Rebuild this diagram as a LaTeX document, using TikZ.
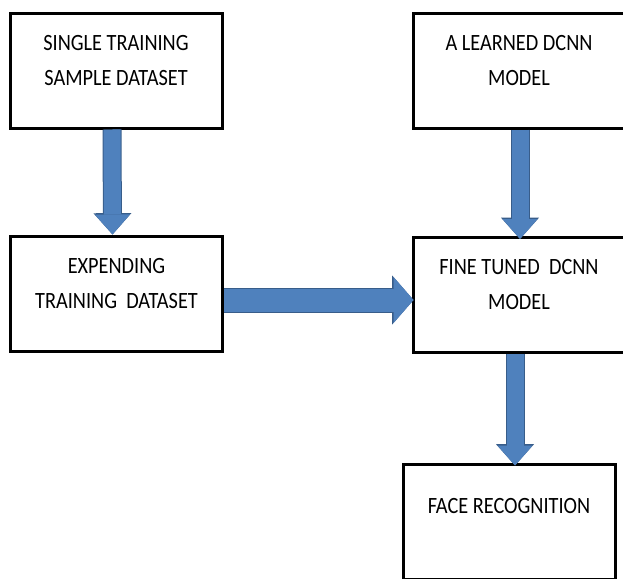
\documentclass[tikz,border=0pt]{standalone}
\usepackage{fontspec}
\setmainfont{Carlito}[FakeStretch=0.87]
\usetikzlibrary{arrows.meta,calc}

\definecolor{arrowblue}{HTML}{4F81BD}
\definecolor{arrowedge}{HTML}{385D8A}

\tikzset{
  box/.style={draw, line width=2.25pt, minimum width=159pt, minimum height=86.25pt,
    inner sep=0pt, align=center, font=\fontsize{17.5}{26.25}\selectfont},
  twoline/.style={text depth=15.75pt},
  oneline/.style={text depth=24pt},
  downarrow/.style={draw=arrowblue, line width=12.75pt,
    -{Triangle[width=26.25pt,length=15pt,line width=0pt]},
    preaction={draw=arrowedge, line width=14.25pt,
      -{Triangle[width=28.5pt,length=16pt,line width=0pt]}}},
  rightarrow/.style={draw=arrowblue, line width=17.25pt,
    -{Triangle[width=34.5pt,length=15pt,line width=0pt]},
    preaction={draw=arrowedge, line width=18.75pt,
      -{Triangle[width=36.75pt,length=16pt,line width=0pt]}}}
}

\begin{document}
\begin{tikzpicture}[x=0.75pt,y=0.75pt,yscale=-1,xscale=1]
\useasboundingbox (0,0) rectangle (623,578);
\clip (0,0) rectangle (623,578);

%Process boxes
\node[box,twoline] (single) at (116,70.5) {SINGLE TRAINING\\SAMPLE DATASET};
\node[box,twoline] (learned) at (519,70.5) {A LEARNED DCNN\\MODEL};
\node[box,twoline] (expend) at (116.5,293.5) {EXPENDING\\TRAINING~ DATASET};
\node[box,twoline] (fine) at (519,295) {FINE TUNED~ DCNN\\MODEL};
\node[box,oneline] (face) at (509,521.5) {FACE RECOGNITION};

%Block arrows
\draw[downarrow] ($(single.south)+(-4,0)$) -- ($(expend.north)+(-4,0)$);
\draw[downarrow] ($(learned.south)+(1,0)$) -- ($(fine.north)+(1,3)$);
\draw[downarrow] ($(fine.south)+(-4,0)$) -- ($(fine.south |- face.north)+(-4,3)$);
\draw[rightarrow] ($(expend.east)+(0,6.5)$) -- ($(expend.east -| fine.west)+(2,6.5)$);

\end{tikzpicture}
\end{document}
